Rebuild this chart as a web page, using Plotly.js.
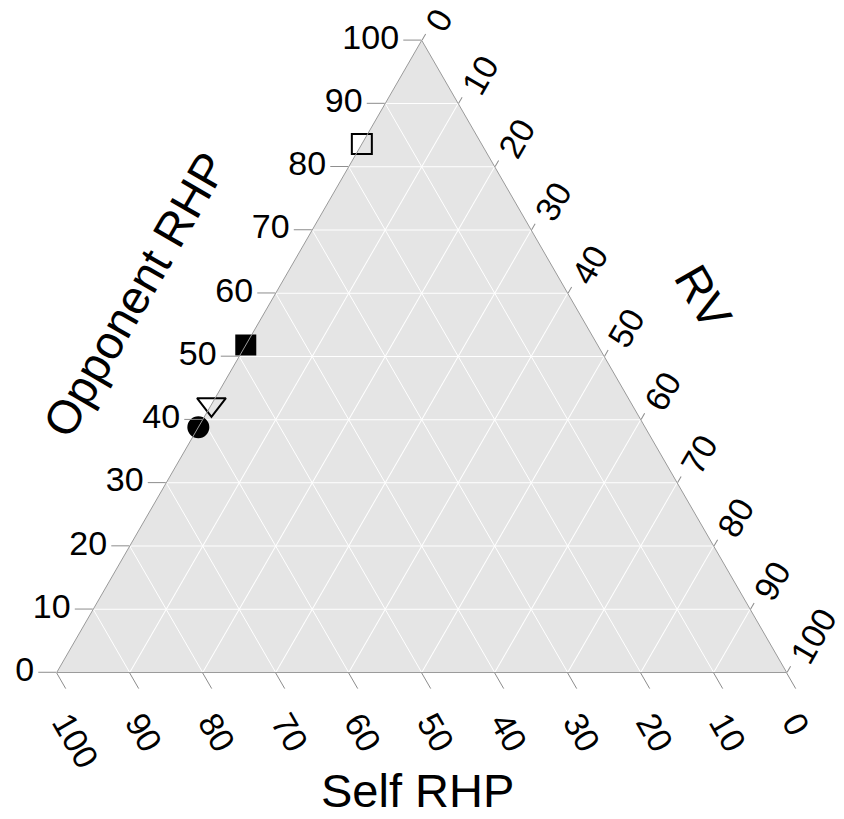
<!DOCTYPE html>
<html>
<head>
<meta charset="utf-8">
<script src="https://cdn.plot.ly/plotly-3.0.1.min.js"></script>
<style>html,body{margin:0;padding:0;background:#fff;}#chart{width:844px;height:819px;}</style>
</head>
<body>
<div id="chart"></div>
<script>
// Data: ternary components (percent)
const groupNames = ['Open square', 'Filled square', 'Open triangle', 'Filled circle'];
const opponentRHP = [83.6, 51.8, 42.4, 38.8];
const selfRHP = [16.4, 48.2, 57.6, 61.2];
const rv = [0, 0, 0, 0];
const symbols = ['square-open', 'square', 'triangle-down-open', 'circle'];
const sizes = [20, 19, 25, 20];
const tickVals = [0, 10, 20, 30, 40, 50, 60, 70, 80, 90, 100];

const traces = groupNames.map((name, i) => ({
  type: 'scatterternary',
  mode: 'markers',
  name: name,
  a: [opponentRHP[i]],
  b: [selfRHP[i]],
  c: [rv[i]],
  cliponaxis: false,
  marker: {
    symbol: symbols[i],
    size: sizes[i],
    color: '#000000',
    line: {color: '#000000', width: 2}
  },
  showlegend: false,
  hoverinfo: 'a+b+c'
}));

const fontFam = 'Arial, "Liberation Sans", sans-serif';
const axisCommon = {
  min: 0,
  tickmode: 'array',
  tickvals: tickVals,
  ticks: 'outside',
  ticklen: 18,
  tickcolor: '#8c8c8c',
  tickwidth: 1,
  linecolor: '#9a9a9a',
  linewidth: 1,
  gridcolor: '#ffffff',
  gridwidth: 1,
  showline: true,
  showgrid: true,
  tickfont: {family: fontFam, size: 34, color: '#000'},
  title: {text: ''}
};

const layout = {
  width: 844,
  height: 819,
  margin: {l: 0, r: 0, t: 0, b: 0},
  paper_bgcolor: '#ffffff',
  font: {family: fontFam, color: '#000'},
  ternary: {
    sum: 100,
    domain: {x: [0.0672, 0.9321], y: [0.1739, 0.9557]},
    bgcolor: '#e5e5e5',
    aaxis: Object.assign({}, axisCommon, {tickangle: 0}),
    baxis: Object.assign({}, axisCommon, {tickangle: 60}),
    caxis: Object.assign({}, axisCommon, {tickangle: -60, ticklen: 7})
  },
  annotations: [
    {text: 'Opponent RHP', x: 0.16, y: 0.64, xref: 'paper', yref: 'paper', showarrow: false,
     xanchor: 'center', yanchor: 'middle',
     textangle: -60, font: {family: fontFam, size: 47, color: '#000'}},
    {text: 'RV', x: 0.834, y: 0.637, xref: 'paper', yref: 'paper', showarrow: false,
     xanchor: 'center', yanchor: 'middle',
     textangle: 60, font: {family: fontFam, size: 47, color: '#000'}},
    {text: 'Self RHP', x: 0.495, y: 0.035, xref: 'paper', yref: 'paper', showarrow: false,
     xanchor: 'center', yanchor: 'middle',
     textangle: 0, font: {family: fontFam, size: 47, color: '#000'}}
  ]
};

Plotly.newPlot('chart', traces, layout, {displayModeBar: false, staticPlot: true});
</script>
</body>
</html>
